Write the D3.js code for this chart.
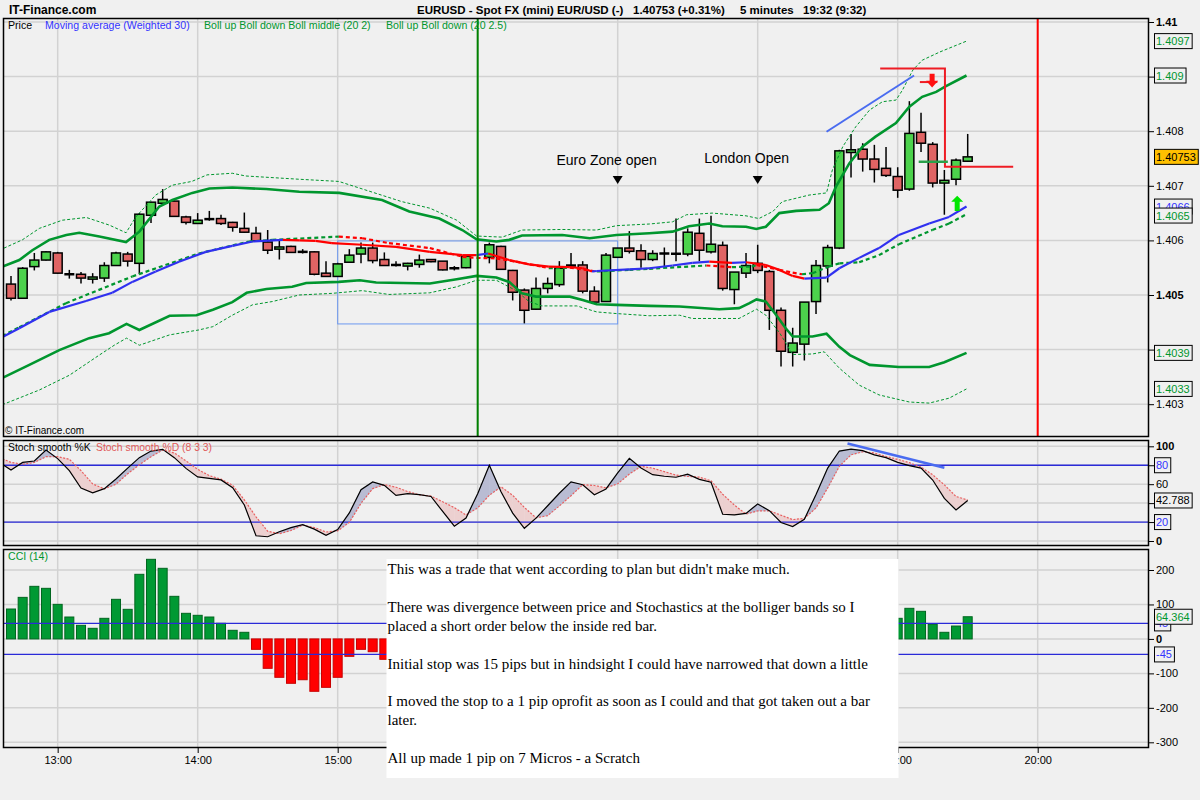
<!DOCTYPE html>
<html><head><meta charset="utf-8">
<script src="https://cdn.jsdelivr.net/npm/d3@7"></script>
<style>
html,body{margin:0;padding:0;background:#f0f0f0;}
svg{display:block;font-family:"Liberation Sans",Arial,sans-serif;}
</style></head><body>
<svg id="chart" width="1200" height="800"></svg>
<script>
// ---------------- DATA ----------------
const hourIndex  = [4,16,28,40,52,64,76,88];
const hourLabels = ["13:00","14:00","15:00","16:00","17:00","18:00","19:00","20:00"];

const openP  = [1.40520,1.40494,1.40552,1.40564,1.40577,1.40538,1.40538,1.40529,1.40531,1.40554,1.40575,1.40558,1.40646,1.40668,1.40672,1.40643,1.40631,1.40639,1.40640,1.40633,1.40622,1.40613,1.40597,1.40584,1.40589,1.40579,1.40579,1.40540,1.40534,1.40560,1.40575,1.40586,1.40565,1.40555,1.40553,1.40556,1.40565,1.40562,1.40549,1.40550,null,1.40569,1.40589,1.40545,1.40509,1.40474,1.40512,1.40519,1.40554,1.40555,1.40507,1.40488,1.40569,1.40586,1.40581,1.40565,1.40576,1.40575,1.40575,1.40613,1.40579,1.40591,1.40510,1.40540,1.40558,1.40543,1.40472,1.40395,1.40410,1.40488,1.40553,1.40586,1.40761,1.40767,1.40749,1.40732,1.40717,1.40694,1.40798,1.40776,1.40705,1.40712,1.40745];
const highP  = [1.40535,1.40551,1.40577,1.40580,1.40579,1.40546,1.40542,1.40540,1.40560,1.40579,1.40579,1.40650,1.40671,1.40694,1.40673,1.40645,1.40650,1.40654,1.40647,1.40634,1.40651,1.40625,1.40619,1.40602,1.40590,1.40584,1.40580,1.40562,1.40559,1.40584,1.40596,1.40596,1.40578,1.40562,1.40559,1.40574,1.40566,1.40562,1.40553,1.40572,null,1.40596,1.40590,1.40546,1.40512,1.40532,1.40532,1.40562,1.40577,1.40562,1.40516,1.40577,1.40586,1.40617,1.40593,1.40582,1.40587,1.40640,1.40622,1.40640,1.40645,1.40598,1.40542,1.40577,1.40592,1.40546,1.40477,1.40440,1.40487,1.40564,1.40592,1.40766,1.40795,1.40778,1.40775,1.40771,1.40734,1.40855,1.40834,1.40780,1.40729,1.40750,1.40795];
const lowP   = [1.40490,1.40493,1.40545,1.40563,1.40539,1.40530,1.40521,1.40521,1.40524,1.40553,1.40552,1.40538,1.40632,1.40668,1.40644,1.40629,1.40631,1.40636,1.40628,1.40616,1.40614,1.40599,1.40575,1.40565,1.40578,1.40576,1.40536,1.40533,1.40533,1.40560,1.40558,1.40558,1.40554,1.40552,1.40545,1.40550,1.40560,1.40545,1.40545,1.40549,null,1.40558,1.40547,1.40490,1.40448,1.40473,1.40503,1.40515,1.40552,1.40503,1.40486,1.40487,1.40569,1.40576,1.40550,1.40562,1.40552,1.40562,1.40571,1.40562,1.40576,1.40508,1.40483,1.40531,1.40540,1.40436,1.40369,1.40369,1.40380,1.40465,1.40523,1.40584,1.40715,1.40726,1.40706,1.40716,1.40678,1.40691,1.40762,1.40697,1.40647,1.40701,1.40744];
const closeP = [1.40494,1.40549,1.40564,1.40579,1.40540,1.40538,1.40531,1.40533,1.40554,1.40577,1.40562,1.40648,1.40670,1.40675,1.40644,1.40633,1.40637,1.40639,1.40631,1.40624,1.40615,1.40599,1.40582,1.40588,1.40578,1.40579,1.40538,1.40534,1.40557,1.40573,1.40586,1.40563,1.40554,1.40555,1.40558,1.40564,1.40561,1.40546,1.40549,1.40571,null,1.40592,1.40547,1.40505,1.40472,1.40512,1.40521,1.40549,1.40554,1.40507,1.40487,1.40573,1.40586,1.40580,1.40565,1.40576,1.40576,1.40576,1.40615,1.40582,1.40593,1.40512,1.40542,1.40554,1.40545,1.40472,1.40397,1.40412,1.40487,1.40554,1.40587,1.40764,1.40766,1.40749,1.40730,1.40719,1.40692,1.40796,1.40778,1.40705,1.40710,1.40747,1.40753];

// Bollinger (20, 2) upper / lower, Bollinger (20, 2.5) upper / lower : [bar index, price]
const bollUp2 = [[-0.72,1.40552],[0.71,1.40564],[1.83,1.40582],[3.28,1.40601],[4.74,1.40610],[5.85,1.40614],[7.57,1.40607],[9.86,1.40597],[11.0,1.40616],[12.71,1.40662],[13.83,1.40674],[15.54,1.40687],[17.0,1.40695],[18.97,1.40697],[21.88,1.40694],[24.71,1.40689],[28.14,1.40687],[31.8,1.40674],[34.14,1.40653],[36.71,1.40640],[38.68,1.40619],[39.9,1.40602],[41.6,1.40598],[42.7,1.40601],[43.8,1.40609],[47.25,1.40610],[49.6,1.40604],[51.9,1.40610],[54.7,1.40613],[56.7,1.40616],[58.1,1.40626],[59.85,1.40631],[60.97,1.40626],[63.0,1.40625],[63.88,1.40621],[64.7,1.40625],[65.85,1.40650],[67.3,1.40654],[69.3,1.40656],[70.1,1.40668],[70.7,1.40698],[71.85,1.40741],[73.0,1.40772],[74.1,1.40790],[75.85,1.40815],[77.0,1.40845],[78.1,1.40863],[79.3,1.40872],[80.1,1.40882],[81.9,1.40902]];
const bollUp25 = [[-1.0,1.40582],[0.97,1.40601],[2.43,1.40622],[4.4,1.40637],[6.45,1.40642],[8.43,1.40628],[9.86,1.40614],[10.7,1.40643],[12.4,1.40683],[13.8,1.40701],[15.5,1.40708],[16.8,1.40720],[18.97,1.40723],[20.1,1.40718],[24.7,1.40712],[28.1,1.40708],[33.5,1.40671],[35.9,1.40659],[38.2,1.40637],[39.9,1.40608],[42.1,1.40606],[43.8,1.40619],[47.25,1.40620],[50.2,1.40619],[51.9,1.40627],[54.7,1.40630],[56.7,1.40634],[57.9,1.40647],[60.1,1.40650],[63.0,1.40645],[64.1,1.40640],[65.3,1.40653],[66.1,1.40671],[68.4,1.40683],[69.9,1.40687],[70.4,1.40729],[71.3,1.40772],[72.4,1.40808],[73.6,1.40839],[74.7,1.40854],[75.85,1.40857],[76.4,1.40875],[77.3,1.40912],[78.1,1.40930],[79.6,1.40945],[81.9,1.40965]];
const bollLo2 = [[-0.75,1.40348],[1.57,1.40372],[4.14,1.40399],[6.7,1.40421],[8.4,1.40430],[9.9,1.40447],[11.0,1.40436],[13.6,1.40462],[15.9,1.40463],[17.3,1.40473],[18.97,1.40487],[20.2,1.40504],[21.9,1.40511],[24.1,1.40515],[25.3,1.40522],[28.1,1.40524],[29.9,1.40527],[31.3,1.40523],[35.9,1.40521],[38.2,1.40529],[39.9,1.40535],[41.6,1.40532],[42.7,1.40524],[43.8,1.40503],[45.0,1.40497],[47.9,1.40497],[49.0,1.40491],[50.2,1.40483],[51.9,1.40482],[54.7,1.40480],[57.3,1.40479],[60.7,1.40474],[62.4,1.40476],[63.3,1.40485],[63.9,1.40492],[64.7,1.40488],[65.6,1.40463],[66.4,1.40439],[67.0,1.40424],[68.7,1.40424],[69.9,1.40429],[71.0,1.40405],[71.9,1.40390],[73.6,1.40372],[76.1,1.40368],[78.7,1.40368],[80.0,1.40377],[81.9,1.40394]];
const bollLo25 = [[-0.75,1.40299],[2.43,1.40326],[5.0,1.40353],[7.57,1.40390],[8.85,1.40408],[9.9,1.40421],[11.0,1.40408],[13.6,1.40427],[16.1,1.40436],[17.3,1.40442],[18.97,1.40463],[20.7,1.40482],[22.4,1.40488],[24.7,1.40500],[27.5,1.40503],[30.1,1.40508],[32.4,1.40501],[35.9,1.40504],[38.2,1.40515],[39.9,1.40527],[41.6,1.40527],[43.3,1.40508],[44.4,1.40488],[45.5,1.40480],[48.5,1.40480],[50.2,1.40469],[51.9,1.40466],[54.7,1.40462],[57.3,1.40463],[58.4,1.40457],[62.4,1.40457],[63.9,1.40474],[64.7,1.40463],[65.9,1.40430],[67.0,1.40391],[68.7,1.40392],[69.7,1.40396],[71.0,1.40366],[72.7,1.40335],[74.4,1.40317],[77.0,1.40304],[78.7,1.40302],[80.4,1.40311],[81.9,1.40328]];
// Boll middle (20) and weighted MA (30)
const bollMid = [[-0.75,1.40425],[0.71,1.40441],[4.71,1.40485],[10.4,1.40534],[16.1,1.40576],[20.4,1.40598],[22.4,1.40601],[28.1,1.40607],[30.1,1.40604],[32.4,1.40595],[35.9,1.40586],[38.7,1.40570],[39.9,1.40568],[41.6,1.40567],[43.3,1.40561],[45.5,1.40552],[46.1,1.40549],[47.9,1.40550],[50.2,1.40543],[53.0,1.40546],[54.7,1.40548],[59.6,1.40554],[61.8,1.40551],[63.5,1.40552],[63.9,1.40555],[65.85,1.40546],[67.0,1.40541],[67.8,1.40538],[68.7,1.40540],[70.1,1.40552],[71.0,1.40558],[72.7,1.40560],[74.4,1.40573],[76.1,1.40593],[78.97,1.40619],[80.4,1.40631],[81.9,1.40648]];
const wma30 = [[-0.75,1.40423],[0.71,1.40439],[3.28,1.40469],[6.43,1.40489],[8.68,1.40504],[10.4,1.40524],[12.4,1.40543],[14.4,1.40561],[16.7,1.40579],[18.97,1.40590],[20.7,1.40598],[23.3,1.40601],[24.7,1.40600],[26.1,1.40599],[27.5,1.40595],[30.1,1.40592],[33.0,1.40588],[35.9,1.40579],[38.7,1.40573],[39.9,1.40573],[40.9,1.40576],[42.7,1.40564],[44.4,1.40556],[46.1,1.40552],[47.9,1.40551],[49.0,1.40549],[49.8,1.40543],[50.2,1.40544],[53.0,1.40547],[54.7,1.40549],[56.7,1.40554],[58.4,1.40559],[59.85,1.40561],[61.8,1.40559],[63.0,1.40560],[64.7,1.40555],[65.85,1.40546],[67.0,1.40535],[68.0,1.40530],[69.9,1.40532],[71.0,1.40549],[72.7,1.40568],[74.4,1.40586],[76.1,1.40610],[78.7,1.40631],[80.4,1.40643],[81.9,1.40662]];

// Stochastics, bar index -1 .. 82
const stochK = [83,75,83,84.5,96,87,74.3,56,50.8,55.3,65.5,77,88,95,96.8,88,76.7,67.7,66.2,64.5,56.3,38,5.5,4.5,9.8,14.1,17.3,12.5,6,12.1,29.6,54.1,62.4,58.7,48.2,50.1,48.9,47,31.2,15.6,24.3,50,80,52,29.4,13.4,24.1,37.2,50.4,62.4,59.4,48.9,55,72,87.3,77,70,68.4,67.3,70.5,65.1,62,28.2,27.5,29.2,39.1,32,19.5,15.3,23,49,77,95,97,95.5,91,88,83,79.6,77,64.4,45,32.7,42.788];
const stochD = [88,83,81,83,89,89,86.3,74.3,60.3,55,60,71,80.5,89,96,93,84.6,75.7,69,65.3,58.8,43.4,25.5,10.3,7.7,11.1,16.8,14.2,9.5,10.7,19.7,39.8,55.3,59.6,56.8,52.2,48.8,47.4,41.4,35.2,27.5,35,48.3,57.2,48.3,35.4,24.5,26.8,37,47.8,59.5,58.6,56.1,60.4,70.7,78.8,76.9,73.3,69.6,68.2,67.4,63.6,49.4,37.9,28.4,31.8,31.9,27.2,22.6,23.9,34.9,56.1,78.9,91,94.2,93,89.3,86.2,82.7,78.1,69.9,59.3,47,43.3];

// CCI (14), bar index 0 .. 82 (bars hidden behind the note are null)
const cci14 = [86.8,120.6,152.6,146.8,100.3,63.6,39.5,30.8,59.8,114.9,85.9,187.5,231,204.9,123.6,74.3,68.5,63.6,45.3,25,19.2,-30.2,-85.3,-111.4,-128.8,-118.4,-152,-140.5,-111.4,-50.5,-30.2,-37.1,-59.2,
 null,null,null,null,null,null,null,null,null,null,null,null,null,null,null,null,null,null,null,null,null,null,null,null,null,null,null,null,null,null,null,null,null,null,null,null,null,null,null,null,null,null,null,
 59.8,88.8,80.1,42.4,19.2,37.4,64.364];

// axis ticks
const priceTicks = [1.403,1.404,1.405,1.406,1.407,1.408,1.409,1.41];
const priceTickLabels = ["1.403","1.404","1.405","1.406","1.407","1.408","1.409","1.41"];
const priceBold = ["1.405","1.41"];
const stochTicks = [0,20,40,60,80,100];
const stochTickLabels = ["0","20","40","60","80","100"];
const stochBold = ["0","100"];
const cciTicks = [-300,-200,-100,0,100,200];
const cciTickLabels = ["-300","-200","-100","0","100","200"];
const cciBold = ["0"];

// right-side value boxes
const priceBoxText  = ["1.4097","1.409","1.40753","1.4066","1.4065","1.4039","1.4033"];
const priceBoxValue = [1.40965,1.40902,1.40753,1.40662,1.40648,1.40394,1.40328];
const priceBoxKind  = ["boll","boll","last","ma","boll","boll","boll"];
const stochLevels = [80,20];
const stochLast = 42.788;
const cciLevels = [45,-45];
const cciLast = 64.364;

// annotations (bar index / price)
const sessionIdx   = [52,64];
const sessionNames = ["Euro Zone open","London Open"];
const rangeBox     = [28,52,1.40447,1.40599];
const markerLinesIdx = [40,88];
const stopLine  = [[74.5,1.40915],[80.05,1.40915],[80.05,1.40735],[85.9,1.40735]];
const priceTrend = [[69.9,1.40799],[77.4,1.40902]];
const stochTrend = [[71.7,103],[80.0,77.4]];
const orderLine  = [[77.8,1.40744],[80.3,1.40744]];
const orderTick  = [[77.9,1.40890],[79.4,1.40890]];
const downArrow  = [78.95,1.40905,1.40880];
const upArrow    = [81.1,1.40654,1.40682];

const noteLines = [
 "This was a trade that went according to plan but didn't make much.",
 "",
 "There was divergence between price and Stochastics at the bolliger bands so I",
 "placed a short order below the inside red bar.",
 "",
 "Initial stop was 15 pips but in hindsight I could have narrowed that down a little",
 "",
 "I moved the stop to a 1 pip oprofit as soon as I could and that got taken out a bar",
 "later.",
 "",
 "All up made 1 pip on 7 Micros - a Scratch"
];

// ---------------- LAYOUT ----------------
const W=1200,H=800,L=3,R=1149;
const P={top:18,bottom:437}, S={top:440,bottom:546}, C={top:549,bottom:748};
const NOTE={x:386.5,y:559,w:512,h:219};
const GREEN="#00962e", BLUE="#3030f0", RED="#ff0000", GRID="#d2d2d2";

const x  = d3.scaleLinear().domain([0,88]).range([11,1037.7]);
const yP = d3.scaleLinear().domain([1.403,1.41]).range([404.2,22]);
const yS = d3.scaleLinear().domain([0,100]).range([541,446.3]);
const yC = d3.scaleLinear().domain([-300,200]).range([742.3,570]);

const svg = d3.select("#chart");
svg.append("rect").attr("width",W).attr("height",H).attr("fill","#f0f0f0");
const defs = svg.append("defs");
[["cp",P],["cs",S],["cc",C]].forEach(([id,p])=>{
  defs.append("clipPath").attr("id",id).append("rect")
    .attr("x",L).attr("y",p.top).attr("width",R-L).attr("height",p.bottom-p.top);
});

function grid(g,p,yScale,ticks){
  g.selectAll(null).data(hourIndex).join("line")
    .attr("x1",d=>x(d)).attr("x2",d=>x(d)).attr("y1",p.top).attr("y2",p.bottom)
    .attr("stroke",GRID).attr("stroke-width",1.5);
  g.selectAll(null).data(ticks).join("line")
    .attr("x1",L).attr("x2",R).attr("y1",d=>yScale(d)).attr("y2",d=>yScale(d))
    .attr("stroke",GRID).attr("stroke-width",1.5);
}

// hide a tick label when a value box sits right on top of it
function rightAxis(yScale,ticks,labels,bold,boxYs){
  const ax = svg.append("g").attr("transform",`translate(${R},0)`)
    .call(d3.axisRight(yScale).tickValues(ticks).tickSize(5).tickPadding(2)
      .tickFormat((d,i)=>labels[i]));
  ax.select(".domain").remove();
  ax.selectAll("line").attr("stroke","#000");
  ax.selectAll("text").attr("font-size",11).attr("fill","#000")
    .attr("font-family","Liberation Sans, Arial, sans-serif")
    .attr("font-weight",(d,i)=>bold.includes(labels[i])?"bold":"normal");
  ax.selectAll("text").filter(d=>boxYs.some(b=>Math.abs(b-yScale(d))<3)).remove();
  return ax;
}

function valueBox(yv,txt,color,fill){
  const g = svg.append("g");
  const t = g.append("text").attr("x",1156).attr("y",yv+4).attr("font-size",11)
    .attr("fill",color).text(txt);
  const w = t.node().getComputedTextLength();
  g.insert("rect","text").attr("x",1154.5).attr("y",yv-7.5).attr("width",w+4).attr("height",15)
    .attr("fill",fill).attr("stroke","#000").attr("stroke-width",1);
}

const lineGen = (ys)=>d3.line().x(d=>x(d[0])).y(d=>ys(d[1]));

// ---------------- PRICE PANEL ----------------
const gp = svg.append("g").attr("clip-path","url(#cp)");
grid(gp,P,yP,priceTicks);

gp.append("rect").attr("x",x(rangeBox[0])).attr("y",yP(rangeBox[3]))
  .attr("width",x(rangeBox[1])-x(rangeBox[0])).attr("height",yP(rangeBox[2])-yP(rangeBox[3]))
  .attr("fill","none").attr("stroke","#6c98f0").attr("stroke-width",1);

const bars = openP.map((o,i)=>({i,o,h:highP[i],l:lowP[i],c:closeP[i]})).filter(d=>d.o!==null);
const cg = gp.append("g");
cg.selectAll("line.wick").data(bars).join("line").attr("class","wick")
  .attr("x1",d=>x(d.i)).attr("x2",d=>x(d.i)).attr("y1",d=>yP(d.h)).attr("y2",d=>yP(d.l))
  .attr("stroke","#000").attr("stroke-width",1.5);
const isDoji = d=>Math.abs(d.o-d.c)<0.000015;
cg.selectAll("rect.body").data(bars.filter(d=>!isDoji(d))).join("rect").attr("class","body")
  .attr("x",d=>x(d.i)-4.5).attr("width",9)
  .attr("y",d=>yP(Math.max(d.o,d.c))).attr("height",d=>Math.max(1,yP(Math.min(d.o,d.c))-yP(Math.max(d.o,d.c))))
  .attr("fill",d=>d.c>d.o?"#4cd24c":"#e06464").attr("stroke","#000").attr("stroke-width",1.5);
cg.selectAll("line.doji").data(bars.filter(isDoji)).join("line").attr("class","doji")
  .attr("x1",d=>x(d.i)-5).attr("x2",d=>x(d.i)+5).attr("y1",d=>yP((d.o+d.c)/2)).attr("y2",d=>yP((d.o+d.c)/2))
  .attr("stroke","#000").attr("stroke-width",2.5);

gp.append("path").attr("d",lineGen(yP)(bollUp2)).attr("fill","none").attr("stroke",GREEN).attr("stroke-width",2.6);
gp.append("path").attr("d",lineGen(yP)(bollLo2)).attr("fill","none").attr("stroke",GREEN).attr("stroke-width",2.6);
gp.append("path").attr("d",lineGen(yP)(bollUp25)).attr("fill","none").attr("stroke",GREEN).attr("stroke-width",1).attr("stroke-dasharray","3,2");
gp.append("path").attr("d",lineGen(yP)(bollLo25)).attr("fill","none").attr("stroke",GREEN).attr("stroke-width",1).attr("stroke-dasharray","3,2");

function slopeColored(g,pts,up,down,width,dash){
  g.selectAll(null).data(d3.pairs(pts)).join("line")
    .attr("x1",d=>x(d[0][0])).attr("y1",d=>yP(d[0][1])).attr("x2",d=>x(d[1][0])).attr("y2",d=>yP(d[1][1]))
    .attr("stroke",d=>d[1][1]>d[0][1]?up:down).attr("stroke-width",width)
    .attr("stroke-dasharray",dash).attr("stroke-linecap","butt");
}
slopeColored(gp.append("g"),bollMid,GREEN,RED,2.2,"4,3");
slopeColored(gp.append("g"),wma30,BLUE,RED,2.2,null);

gp.selectAll(null).data(markerLinesIdx).join("line")
  .attr("x1",d=>x(d)).attr("x2",d=>x(d)).attr("y1",P.top).attr("y2",P.bottom)
  .attr("stroke",(d,i)=>i===0?"#008000":"#ff0000").attr("stroke-width",2);

const sg = gp.append("g");
sg.selectAll("text").data(sessionIdx).join("text")
  .attr("x",d=>x(d)-11).attr("y",(d,i)=>i===0?165:163).attr("text-anchor","middle")
  .attr("font-size",14).attr("fill","#000").text((d,i)=>sessionNames[i]);
sg.selectAll("path").data(sessionIdx).join("path")
  .attr("d",d=>`M${x(d)-5},176 L${x(d)+5},176 L${x(d)},184 Z`).attr("fill","#000");

gp.append("path").attr("d",lineGen(yP)(priceTrend)).attr("stroke","#4a6cf0").attr("stroke-width",2).attr("fill","none");
gp.append("path").attr("d",lineGen(yP)(stopLine)).attr("stroke","#ee1c24").attr("stroke-width",2).attr("fill","none");
gp.append("path").attr("d",lineGen(yP)(orderTick)).attr("stroke","#ee1c24").attr("stroke-width",2).attr("fill","none");
gp.append("path").attr("d",lineGen(yP)(orderLine)).attr("stroke","#2aa04a").attr("stroke-width",2.5).attr("fill","none");
{
  const ax=x(downArrow[0]), yt=yP(downArrow[1]), yb=yP(downArrow[2]);
  const ym = yt+(yb-yt)*0.5;
  gp.append("path").attr("d",`M${ax-2.5},${yt} L${ax+2.5},${yt} L${ax+2.5},${ym} L${ax+6},${ym} L${ax},${yb} L${ax-6},${ym} L${ax-2.5},${ym} Z`).attr("fill","#ff1010");
  const ux=x(upArrow[0]), ub=yP(upArrow[1]), ut=yP(upArrow[2]);
  const um = ut+(ub-ut)*0.4;
  gp.append("path").attr("d",`M${ux-2.5},${ub} L${ux+2.5},${ub} L${ux+2.5},${um} L${ux+6},${um} L${ux},${ut} L${ux-6},${um} L${ux-2.5},${um} Z`).attr("fill","#00e600");
}

const lg = svg.append("g").attr("font-size",10.6);
lg.append("text").attr("x",8).attr("y",29).attr("fill","#000").text("Price");
lg.append("text").attr("x",45).attr("y",29).attr("fill","#3333ff").text("Moving average (Weighted 30)");
lg.append("text").attr("x",204).attr("y",29).attr("fill",GREEN).text("Boll up Boll down Boll middle (20 2)");
lg.append("text").attr("x",386).attr("y",29).attr("fill",GREEN).text("Boll up Boll down (20 2.5)");
svg.append("text").attr("x",5).attr("y",434).attr("font-size",10).attr("fill","#000").text("\u00A9 IT-Finance.com");

// ---------------- STOCH PANEL ----------------
const gs = svg.append("g").attr("clip-path","url(#cs)");
grid(gs,S,yS,stochTicks);
const kd = stochK.map((k,j)=>({i:j-1,k,d:stochD[j]}));
const poly = (pts,up)=>gs.append("path")
  .attr("d","M"+pts.map(p=>`${x(p[0])},${yS(p[1])}`).join("L")+"Z")
  .attr("fill",up?"#b9bcd3":"#ecd0d0").attr("stroke",up?"#b9bcd3":"#ecd0d0").attr("stroke-width",0.5);
d3.pairs(kd).forEach(([a,b])=>{
  const da=a.k-a.d, db=b.k-b.d;
  if(da*db<0){
    const t=da/(da-db), xm=a.i+t*(b.i-a.i), vm=a.k+t*(b.k-a.k);
    poly([[a.i,a.k],[xm,vm],[a.i,a.d]],da>0);
    poly([[xm,vm],[b.i,b.k],[b.i,b.d]],db>0);
  } else poly([[a.i,a.k],[b.i,b.k],[b.i,b.d],[a.i,a.d]],(da+db)>0);
});
gs.selectAll(null).data(stochLevels).join("line")
  .attr("x1",L).attr("x2",R).attr("y1",d=>yS(d)).attr("y2",d=>yS(d)).attr("stroke","#2a2ad8").attr("stroke-width",1.3);
gs.append("path").attr("d",d3.line().x(d=>x(d.i)).y(d=>yS(d.d))(kd)).attr("fill","none")
  .attr("stroke","#e86060").attr("stroke-width",1.2).attr("stroke-dasharray","2,1.5");
gs.append("path").attr("d",d3.line().x(d=>x(d.i)).y(d=>yS(d.k))(kd)).attr("fill","none")
  .attr("stroke","#000").attr("stroke-width",1.2);
gs.append("path").attr("d",d3.line().x(d=>x(d[0])).y(d=>yS(d[1]))(stochTrend)).attr("fill","none")
  .attr("stroke","#4a6cf0").attr("stroke-width",2.5);
svg.append("text").attr("x",8).attr("y",451).attr("font-size",10.4).attr("fill","#000").text("Stoch smooth %K");
svg.append("text").attr("x",96).attr("y",451).attr("font-size",10.4).attr("fill","#e05a5a").text("Stoch smooth %D (8 3 3)");

// ---------------- CCI PANEL ----------------
const gc = svg.append("g").attr("clip-path","url(#cc)");
grid(gc,C,yC,cciTicks);
const cciData = cci14.map((v,i)=>({i,v})).filter(d=>d.v!==null);
gc.selectAll("rect").data(cciData).join("rect")
  .attr("x",d=>x(d.i)-4.5).attr("width",9)
  .attr("y",d=>yC(Math.max(0,d.v))).attr("height",d=>Math.abs(yC(d.v)-yC(0)))
  .attr("fill",d=>d.v>=0?"#009933":"#ff0000").attr("stroke",d=>d.v>=0?"#00661f":"#c80000").attr("stroke-width",1);
gc.selectAll("line.lv").data(cciLevels).join("line").attr("class","lv")
  .attr("x1",L).attr("x2",R).attr("y1",d=>yC(d)).attr("y2",d=>yC(d)).attr("stroke","#2a2ad8").attr("stroke-width",1.3);
svg.append("text").attr("x",8).attr("y",560).attr("font-size",10.6).attr("fill",GREEN).text("CCI (14)");

// ---------------- BORDERS & AXES ----------------
[P,S,C].forEach(p=>svg.append("rect").attr("x",L+0.5).attr("y",p.top+0.5).attr("width",R-L-1)
  .attr("height",p.bottom-p.top-1).attr("fill","none").attr("stroke","#000").attr("stroke-width",1.5));

// price value box positions (a box is pushed below the previous one if they collide)
let prevY=-100;
const priceBoxY = priceBoxValue.map(v=>{let yy=yP(v); if(yy-prevY<9) yy=prevY+9; prevY=yy; return yy;});

rightAxis(yP,priceTicks,priceTickLabels,priceBold,priceBoxY);
rightAxis(yS,stochTicks,stochTickLabels,stochBold,[...stochLevels,stochLast].map(yS));
rightAxis(yC,cciTicks,cciTickLabels,cciBold,[...cciLevels,cciLast].map(yC));

priceBoxValue.forEach((v,i)=>{
  const k=priceBoxKind[i];
  valueBox(priceBoxY[i],priceBoxText[i],k==="ma"?"#3333ff":(k==="last"?"#000":GREEN),k==="last"?"#ffc000":"#f0f0f0");
});
stochLevels.forEach(v=>valueBox(yS(v),String(v),"#3333ff","#f0f0f0"));
valueBox(yS(stochLast),String(stochLast),"#000","#f0f0f0");
cciLevels.forEach(v=>valueBox(yC(v),String(v),"#3333ff","#f0f0f0"));
valueBox(yC(cciLast),String(cciLast),GREEN,"#f0f0f0");

// time axis (labels that sit completely under the note box are not drawn)
const tax = svg.append("g").attr("transform",`translate(0,${C.bottom})`)
  .call(d3.axisBottom(x).tickValues(hourIndex).tickSize(5).tickPadding(3).tickFormat((d,i)=>hourLabels[i]));
tax.select(".domain").remove();
tax.selectAll("line").attr("stroke","#000");
tax.selectAll("text").attr("font-size",11).attr("fill","#000").attr("font-family","Liberation Sans, Arial, sans-serif");
tax.selectAll("text").filter(d=>x(d)-15>NOTE.x && x(d)+15<NOTE.x+NOTE.w).remove();

// note box (drawn on top of the CCI panel and time axis)
const nb = svg.append("g");
nb.append("rect").attr("x",NOTE.x).attr("y",NOTE.y).attr("width",NOTE.w).attr("height",NOTE.h).attr("fill","#fff");
nb.selectAll("text").data(noteLines).join("text")
  .attr("x",387.5).attr("y",(d,i)=>574+i*18.9)
  .attr("font-family","Liberation Serif, 'Times New Roman', serif").attr("font-size",15).attr("fill","#000")
  .text(d=>d);

// header
const hd = svg.append("g").attr("font-size",11.5).attr("font-weight","bold").attr("fill","#000");
hd.append("text").attr("x",9).attr("y",14).attr("font-size",12).text("IT-Finance.com");
hd.append("text").attr("x",417).attr("y",14).text("EURUSD - Spot FX (mini) EUR/USD (-)");
hd.append("text").attr("x",633).attr("y",14).text("1.40753 (+0.31%)");
hd.append("text").attr("x",740).attr("y",14).text("5 minutes");
hd.append("text").attr("x",803).attr("y",14).text("19:32 (9:32)");
</script>
</body></html>
